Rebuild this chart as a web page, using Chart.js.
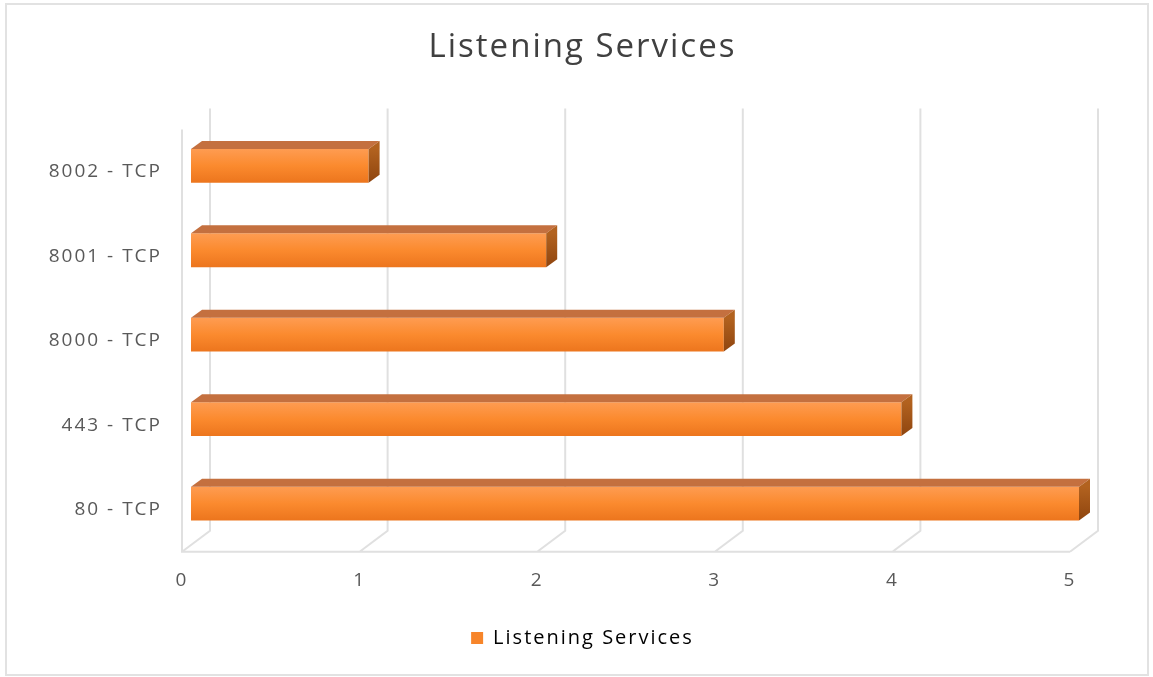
<!DOCTYPE html>
<html><head><meta charset="utf-8">
<script src="https://cdn.jsdelivr.net/npm/chart.js@4/dist/chart.umd.min.js"></script>
<style>html,body{margin:0;padding:0;background:#fff}#wrap{width:1153px;height:677px;position:relative}</style>
</head><body><div id="wrap"><canvas id="c" width="1153" height="677"></canvas></div>
<script>
const categories = ['8002 - TCP', '8001 - TCP', '8000 - TCP', '443 - TCP', '80 - TCP'];
const seriesName = 'Listening Services';
const values = [1, 2, 3, 4, 5];
const xMin = 0, xMax = 5, xStep = 1;

const FONT = "'Open Sans', 'DejaVu Sans', sans-serif";
const SPACING = '2px';
const WALL = {dx: 28, dy: -21};   // 3D wall depth
const BAR_SHIFT = {dx: 9, dy: -6}; // bar front face inside depth
const BAR_DEPTH = {dx: 11, dy: -8};

const threeD = {
  id: 'threeD',
  beforeLayout(chart) { chart.ctx.letterSpacing = SPACING; },
  beforeDraw(chart) {
    const c = chart.ctx;
    c.letterSpacing = SPACING;
    c.save();
    c.fillStyle = '#fff';
    c.fillRect(0, 0, chart.width, chart.height);
    c.strokeStyle = '#e2e2e2';
    c.lineWidth = 2;
    c.strokeRect(6, 4, 1142, 671);
    c.restore();
  },
  beforeDatasetsDraw(chart) {
    const c = chart.ctx, a = chart.chartArea, xs = chart.scales.x;
    c.save();
    c.strokeStyle = '#e0e0e0';
    c.lineWidth = 2;
    c.beginPath();
    c.moveTo(a.left, a.top); c.lineTo(a.left, a.bottom);
    c.lineTo(a.right, a.bottom);
    xs.ticks.forEach(t => {
      const px = xs.getPixelForValue(t.value);
      c.moveTo(px, a.bottom); c.lineTo(px + WALL.dx, a.bottom + WALL.dy);
      c.lineTo(px + WALL.dx, a.top + WALL.dy);
    });
    c.stroke();
    c.restore();
    c.save();
    c.translate(BAR_SHIFT.dx, BAR_SHIFT.dy);
  },
  afterDatasetsDraw(chart) {
    const c = chart.ctx;
    const meta = chart.getDatasetMeta(0);
    meta.data.forEach(el => {
      const p = el.getProps(['x', 'y', 'base', 'height'], true);
      const l = Math.min(p.base, p.x), r = Math.max(p.base, p.x);
      const t = p.y - p.height / 2, b = p.y + p.height / 2;
      const dx = BAR_DEPTH.dx, dy = BAR_DEPTH.dy;
      c.beginPath();
      c.moveTo(l, t); c.lineTo(l + dx, t + dy); c.lineTo(r + dx, t + dy); c.lineTo(r, t); c.closePath();
      c.fillStyle = '#C4703F';
      c.fill();
      const g = c.createLinearGradient(0, t, 0, b);
      g.addColorStop(0, '#B2621F'); g.addColorStop(1, '#8F450F');
      c.beginPath();
      c.moveTo(r, t); c.lineTo(r + dx, t + dy); c.lineTo(r + dx, b + dy); c.lineTo(r, b); c.closePath();
      c.fillStyle = g;
      c.fill();
    });
    c.restore();
  }
};

const chart = new Chart(document.getElementById('c'), {
  type: 'bar',
  data: {
    labels: categories,
    datasets: [{
      label: seriesName,
      data: values,
      yAxisID: 'y',
      barPercentage: 0.4,
      categoryPercentage: 1,
      borderWidth: 0,
      backgroundColor: (ctx) => {
        const ch = ctx.chart;
        if (!ch.chartArea || ctx.dataIndex === undefined) return '#F7852A';
        const cy = ch.scales.y.getPixelForValue(ctx.dataIndex);
        if (!isFinite(cy)) return '#F7852A';
        const g = ch.ctx.createLinearGradient(0, cy - 17, 0, cy + 17);
        g.addColorStop(0, '#FE9C52');
        g.addColorStop(0.5, '#FB8A2E');
        g.addColorStop(1, '#EC751D');
        return g;
      }
    }]
  },
  options: {
    indexAxis: 'y',
    responsive: false,
    animation: false,
    devicePixelRatio: 1,
    layout: {padding: {left: 12, right: 0, top: 0, bottom: 19}},
    scales: {
      x: {
        min: xMin, max: xMax,
        grid: {display: false, drawTicks: false},
        border: {display: false},
        ticks: {stepSize: xStep, padding: 17, color: '#595959', font: {family: FONT, size: 19}}
      },
      y: {
        grid: {display: false, drawTicks: false},
        border: {display: false},
        ticks: {padding: 20, color: '#595959', font: {family: FONT, size: 19}},
        afterFit(s) { s.width = 170; }
      },
      yRight: {
        type: 'category',
        position: 'right',
        grid: {display: false, drawTicks: false},
        border: {display: false},
        ticks: {display: false},
        afterFit(s) { s.width = 83; }
      }
    },
    plugins: {
      title: {
        display: true, text: seriesName, color: '#404040',
        font: {family: FONT, size: 33, weight: 'normal'},
        padding: {top: 28, bottom: 62}
      },
      legend: {
        display: true, position: 'bottom',
        labels: {
          boxWidth: 12, boxHeight: 12, padding: 19.4, color: '#595959',
          font: {family: FONT, size: 20},
          generateLabels: () => [{text: seriesName, fillStyle: '#F7852A', strokeStyle: '#F7852A', lineWidth: 0, hidden: false, datasetIndex: 0}]
        }
      },
      tooltip: {enabled: false}
    }
  },
  plugins: [threeD]
});
</script>
</body></html>
